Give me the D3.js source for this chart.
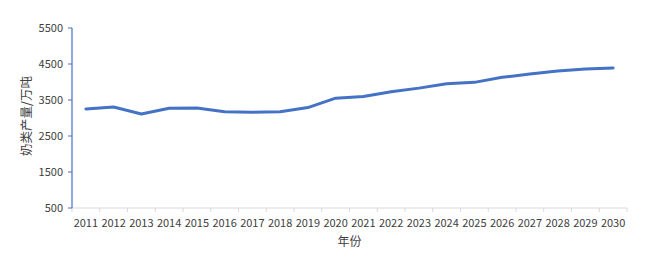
<!DOCTYPE html>
<html><head><meta charset="utf-8">
<script src="https://cdn.jsdelivr.net/npm/d3@7/dist/d3.min.js"></script>
<style>body{margin:0;background:#fff;} svg{display:block;} text{font-family:"Noto Sans CJK SC","DejaVu Sans",sans-serif;}</style>
</head><body>
<svg id="c" width="648" height="255"></svg>
<script>
const years = ["2011","2012","2013","2014","2015","2016","2017","2018","2019","2020","2021","2022","2023","2024","2025","2026","2027","2028","2029","2030"];
const milk = [3250,3305,3110,3270,3280,3175,3160,3176,3290,3550,3595,3730,3830,3950,3990,4130,4220,4305,4360,4390];
const yTicks = [500,1500,2500,3500,4500,5500];
const yTitle = "奶类产量/万吨";
const xTitle = "年份";

(function(){
const svg = d3.select("#c");
const mL = 72, mR = 627, mT = 28, mB = 208;
const x = d3.scaleBand().domain(years).range([mL, mR]);
const y = d3.scaleLinear().domain([500,5500]).range([mB, mT]);

// x axis
const xg = svg.append("g").attr("transform", `translate(0,${mB})`);
xg.append("line").attr("x1", mL).attr("x2", mR).attr("stroke", "#d9d9d9");
const bounds = years.map(d => x(d)).concat([mR]);
xg.selectAll("line.t").data(bounds).join("line").attr("class","t")
  .attr("x1", d => d).attr("x2", d => d).attr("y1", 0).attr("y2", 4).attr("stroke", "#d9d9d9");
xg.selectAll("text").data(years).join("text")
  .attr("x", d => x(d) + x.bandwidth()/2).attr("y", 19)
  .attr("text-anchor","middle").attr("font-size", 11).attr("fill","#404040").text(d => d);

// y axis
const yg = svg.append("g").attr("transform", `translate(${mL},0)`);
yg.append("line").attr("y1", mT).attr("y2", mB).attr("stroke", "#4472C4").attr("stroke-width",1.2);
yg.selectAll("line.t").data(yTicks).join("line").attr("class","t")
  .attr("x1", -4).attr("x2", 0).attr("y1", d => y(d)).attr("y2", d => y(d)).attr("stroke", "#4472C4");
yg.selectAll("text").data(yTicks).join("text")
  .attr("x", -9).attr("y", d => y(d)).attr("dy","0.35em")
  .attr("text-anchor","end").attr("font-size", 11).attr("fill","#404040").text(d => d);

// line
const line = d3.line().x((d,i) => x(years[i]) + x.bandwidth()/2).y(d => y(d));
svg.append("path").datum(milk).attr("d", line).attr("fill","none")
  .attr("stroke","#4472C4").attr("stroke-width",3).attr("stroke-linejoin","round").attr("stroke-linecap","round");

// titles
svg.append("text").attr("transform", `translate(27,${(mT+mB)/2 - 2}) rotate(-90)`)
  .attr("text-anchor","middle").attr("dy","0.35em").attr("font-size",12.5).attr("fill","#404040").text(yTitle);
svg.append("text").attr("x", (mL+mR)/2).attr("y", 246)
  .attr("text-anchor","middle").attr("font-size",12).attr("fill","#404040").text(xTitle);
})();
</script>
</body></html>
